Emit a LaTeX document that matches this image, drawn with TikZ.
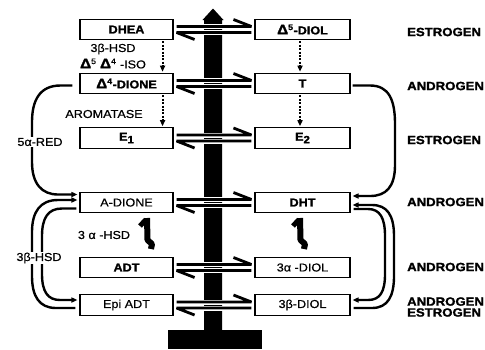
\documentclass[tikz,border=0pt]{standalone}
\usepackage{fontspec}
\setmainfont{Liberation Sans}[FakeStretch=1.1,UprightFeatures={FakeBold=0.6},BoldFeatures={FakeBold=1.6}]
\usetikzlibrary{calc,arrows.meta}
\newcommand\dlt{{\fontsize{14}{13}\selectfont\bfseries Δ}}
\newcommand\revpair[2]{%
  \draw[white,line width=5bp] ($(#1.east)+(3,-3)$) -- ($(#2.west)+(-3,-3)$)
        ($(#1.east)+(3,3)$) -- ($(#2.west)+(-3,3)$);
  \draw[line width=2.8bp,line join=bevel] ($(#1.east)+(3,-3)$) -- ($(#2.west)+(-3,-3)$) -- ++(-18,-7);
  \draw[line width=2.8bp,line join=bevel] ($(#2.west)+(-3,3)$) -- ($(#1.east)+(3,3)$) -- ++(18,7);}
\begin{document}
\begin{tikzpicture}[x=1bp,y=-1bp,
  box/.style={draw,line width=1.1bp,minimum width=93bp,minimum height=20.5bp,inner sep=0pt,font=\fontsize{11.5}{12}\selectfont},
  bbox/.style={box,font=\fontsize{11.5}{12}\selectfont\bfseries},
  lbl/.style={font=\fontsize{11.5}{12}\selectfont,inner sep=1bp},
  cls/.style={font=\fontsize{12}{11}\selectfont\bfseries,anchor=west,inner sep=0pt,align=left},
  curve/.style={line width=2.4bp},
  tip/.style={-{Triangle[length=6bp,width=5bp]}},
  dots/.style={line width=2bp,dash pattern=on 2bp off 1.4bp},
  updn/.pic={
    \draw[line width=5bp] (-7,8) -- (-1,1.5);
    \draw[line width=6bp,line join=round] (0,0) -- (0.5,22) -- (5,26) -- (4,31);
  }]
\useasboundingbox (0,0) rectangle (485,349);
% central bar
\fill (168,330) rectangle (262,349);
\fill (204,331) -- (204,20) -- (202.5,20) -- (213,8.5) -- (223.5,20) -- (222,20) -- (222,331) -- cycle;
% boxes
\node[bbox] (dhea) at (126.5,29.5) {DHEA};
\node[bbox] (d4)   at (126.5,83.5) {\dlt\textsuperscript{4}-DIONE};
\node[bbox] (e1)   at (126.5,138) {E\raisebox{-2.5bp}{\fontsize{10.5}{10}\selectfont 1}};
\node[box]  (adione) at (126.5,202.5) {A-DIONE};
\node[bbox] (adt)  at (126.5,267.5) {ADT};
\node[box]  (epi)  at (126.5,305) {Epi ADT};
\node[bbox,minimum width=95bp] (d5) at (302.5,29.5) {\dlt\textsuperscript{5}-DIOL};
\node[bbox,minimum width=95bp] (t)  at (302.5,83.5) {T};
\node[bbox,minimum width=95bp] (e2) at (302.5,138) {E\raisebox{-2.5bp}{\fontsize{10.5}{10}\selectfont 2}};
\node[bbox,minimum width=95bp] (dht) at (302.5,202.5) {DHT};
\node[box,minimum width=95bp] (adiol) at (302.5,267.5) {3α -DIOL};
\node[box,minimum width=95bp] (bdiol) at (302.5,305) {3β-DIOL};
% reversible arrows
\revpair{dhea}{d5}
\revpair{d4}{t}
\revpair{e1}{e2}
\revpair{adione}{dht}
\revpair{adt}{adiol}
\revpair{epi}{bdiol}
% dotted arrows
\draw[dots,tip] ($(dhea.south east)+(-11,1)$) -- ($(d4.north east)+(-11,-1)$);
\draw[dots,tip] ($(d4.south east)+(-11,1)$) -- ($(e1.north east)+(-11,-1)$);
\draw[dots,tip] ($(d5.south)+(-2.5,1)$) -- ($(t.north)+(-2.5,-1)$);
\draw[dots,tip] ($(t.south)+(-2.5,1)$) -- ($(e2.north)+(-2.5,-1)$);
% left curves
\draw[curve,tip] ($(d4.west)+(-7,2)$) -- ++(-12,0) .. controls (40,85.5) and (32,100) .. (32,122) -- (32,162)
   .. controls (32,184) and (42,194.5) .. (58,194.5) -- ($(adione.west)+(-2,-8)$);
\draw[curve,tip] ($(epi.west)+(-4,3)$) -- (56,308) .. controls (39,308) and (32,296) .. (32,276) -- (32,232)
   .. controls (32,212) and (40,200) .. (58,200) -- ($(adione.west)+(-2,-2.5)$);
\draw[curve,tip] ($(adione.west)+(-3,6)$) -- (62,208.5) .. controls (48,208.5) and (42,218) .. (42,236) -- (42,274)
   .. controls (42,292) and (48,300) .. (60,300) -- ($(epi.west)+(-2,-5)$);
% right curves
\draw[curve,tip] ($(t.east)+(2,2)$) -- (370,85.5) .. controls (389,85.5) and (395,100) .. (395,124) -- (395,165)
   .. controls (395,187) and (386,196) .. (370,196) -- ($(dht.east)+(2,-6.5)$);
\draw[curve,tip] ($(bdiol.east)+(3,3)$) -- (372,308) .. controls (388,308) and (394,296) .. (394,276) -- (394,236)
   .. controls (394,215) and (387,205) .. (372,205) -- ($(dht.east)+(2,2.5)$);
\draw[curve,tip] ($(dht.east)+(3,6.5)$) -- (368,209) .. controls (380,209) and (385,218) .. (385,236) -- (385,274)
   .. controls (385,292) and (380,300) .. (368,300) -- ($(bdiol.east)+(2,-5)$);
% up-down symbols
\pic at (147,218) {updn};
\pic at (300,218) {updn};
% labels
\node[lbl] (hsd1) at (113,49) {3β-HSD};
\node[lbl] (iso) at (113,63.5) {\dlt\textsuperscript{5} \dlt\textsuperscript{4} -ISO};
\node[lbl] (arom) at (104,114) {AROMATASE};
\node[lbl,fill=white] (red) at (40,142) {5α-RED};
\node[lbl] (hsd2) at (104,235) {3 α -HSD};
\node[lbl,fill=white] (hsd3) at (39,258) {3β-HSD};
% classes
\node[cls] (c1) at (407,32) {ESTROGEN};
\node[cls] (c2) at (407,86) {ANDROGEN};
\node[cls] (c3) at (407,140) {ESTROGEN};
\node[cls] (c4) at (407,202) {ANDROGEN};
\node[cls] (c5) at (407,267) {ANDROGEN};
\node[cls] (c6) at (407,307) {ANDROGEN\\ESTROGEN};
\end{tikzpicture}
\end{document}
